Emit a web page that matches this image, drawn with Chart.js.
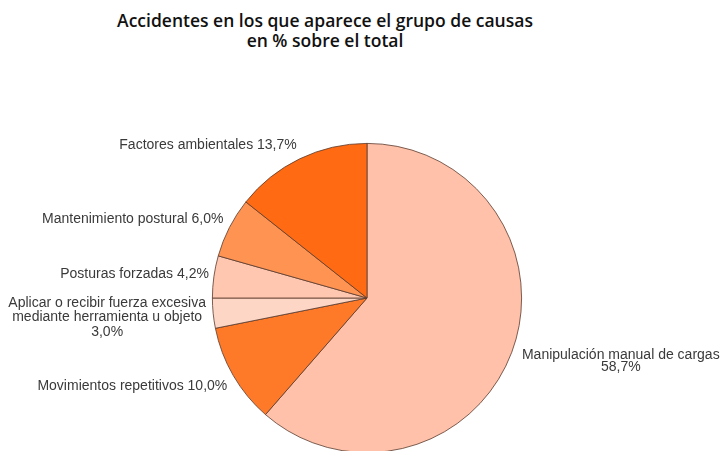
<!DOCTYPE html>
<html lang="es">
<head>
    <meta charset="UTF-8">
    <title>Accidentes por grupo de causas</title>
    <script src="https://cdn.jsdelivr.net/npm/chart.js"></script>
    <style>
        html, body {
            margin: 0;
            padding: 0;
            background: #fff;
            overflow: hidden;
        }
        #wrap {
            position: relative;
            width: 725px;
            height: 451px;
            overflow: hidden;
        }
        #titulo {
            position: absolute;
            left: 75px;
            width: 500px;
            top: 10px;
            text-align: center;
            font-family: "Open Sans", sans-serif;
            font-weight: 600;
            font-size: 17.5px;
            line-height: 20px;
            color: #111;
        }
        #chartBox {
            position: absolute;
            left: 0;
            top: 0;
            width: 725px;
            height: 460px;
        }
    </style>
</head>
<body>
    <div id="wrap">
        <div id="titulo">Accidentes en los que aparece el grupo de causas<br>en % sobre el total</div>
        <div id="chartBox">
            <canvas id="pieChart"></canvas>
        </div>
    </div>
    <script>
        // datos
        var causas = ['Manipulación manual de cargas', 'Movimientos repetitivos', 'Aplicar o recibir fuerza excesiva mediante herramienta u objeto', 'Posturas forzadas', 'Mantenimiento postural', 'Factores ambientales'];
        var porcentajes = [58.7, 10.0, 3.0, 4.2, 6.0, 13.7];
        var etiquetas = [
            ['Manipulación manual de cargas', '58,7%'],
            ['Movimientos repetitivos 10,0%'],
            ['Aplicar o recibir fuerza excesiva', 'mediante herramienta u objeto', '3,0%'],
            ['Posturas forzadas 4,2%'],
            ['Mantenimiento postural 6,0%'],
            ['Factores ambientales 13,7%']
        ];
        var colores = ['#ffc1aa', '#ff7a28', '#fdd6c6', '#ffc6b0', '#ff9352', '#ff6a12'];

        // posicion de cada etiqueta respecto al borde del sector
        var ajustes = [
            { dx: 109, dy: 9, align: 'center', lh: 12 },
            { dx: -6, dy: 11, align: 'right', lh: 14 },
            { dx: -106, dy: 4, align: 'center', lh: 14.5 },
            { dx: -5, dy: -3, align: 'right', lh: 14 },
            { dx: -6, dy: -8, align: 'right', lh: 14 },
            { dx: -3, dy: -14, align: 'right', lh: 14 }
        ];

        var etiquetasPlugin = {
            id: 'etiquetas',
            afterDatasetsDraw: function(chart) {
                var ctx = chart.ctx;
                var meta = chart.getDatasetMeta(0);
                ctx.save();
                ctx.font = '14px "Liberation Sans", Arial, sans-serif';
                ctx.fillStyle = '#3a3a3a';
                ctx.textBaseline = 'middle';
                meta.data.forEach(function(arc, i) {
                    var p = arc.getProps(['x', 'y', 'startAngle', 'endAngle', 'outerRadius'], true);
                    var mid = (p.startAngle + p.endAngle) / 2;
                    var a = ajustes[i];
                    var x = p.x + Math.cos(mid) * p.outerRadius + a.dx;
                    var y = p.y + Math.sin(mid) * p.outerRadius + a.dy;
                    var lineas = etiquetas[i];
                    var y0 = y - (lineas.length - 1) * a.lh / 2;
                    ctx.textAlign = a.align;
                    lineas.forEach(function(t, k) {
                        ctx.fillText(t, x, y0 + k * a.lh);
                    });
                });
                ctx.restore();
            }
        };

        var ctx = document.getElementById('pieChart').getContext('2d');
        var pieChart = new Chart(ctx, {
            type: 'pie',
            data: {
                labels: causas,
                datasets: [{
                    data: porcentajes,
                    backgroundColor: colores,
                    borderColor: '#5b3a2c',
                    borderWidth: 0.8
                }]
            },
            options: {
                responsive: true,
                maintainAspectRatio: false,
                animation: false,
                layout: {
                    padding: { top: 143, bottom: 7, left: 212, right: 203 }
                },
                plugins: {
                    legend: { display: false },
                    tooltip: { enabled: false },
                    title: { display: false }
                }
            },
            plugins: [etiquetasPlugin]
        });
    </script>
</body>
</html>
